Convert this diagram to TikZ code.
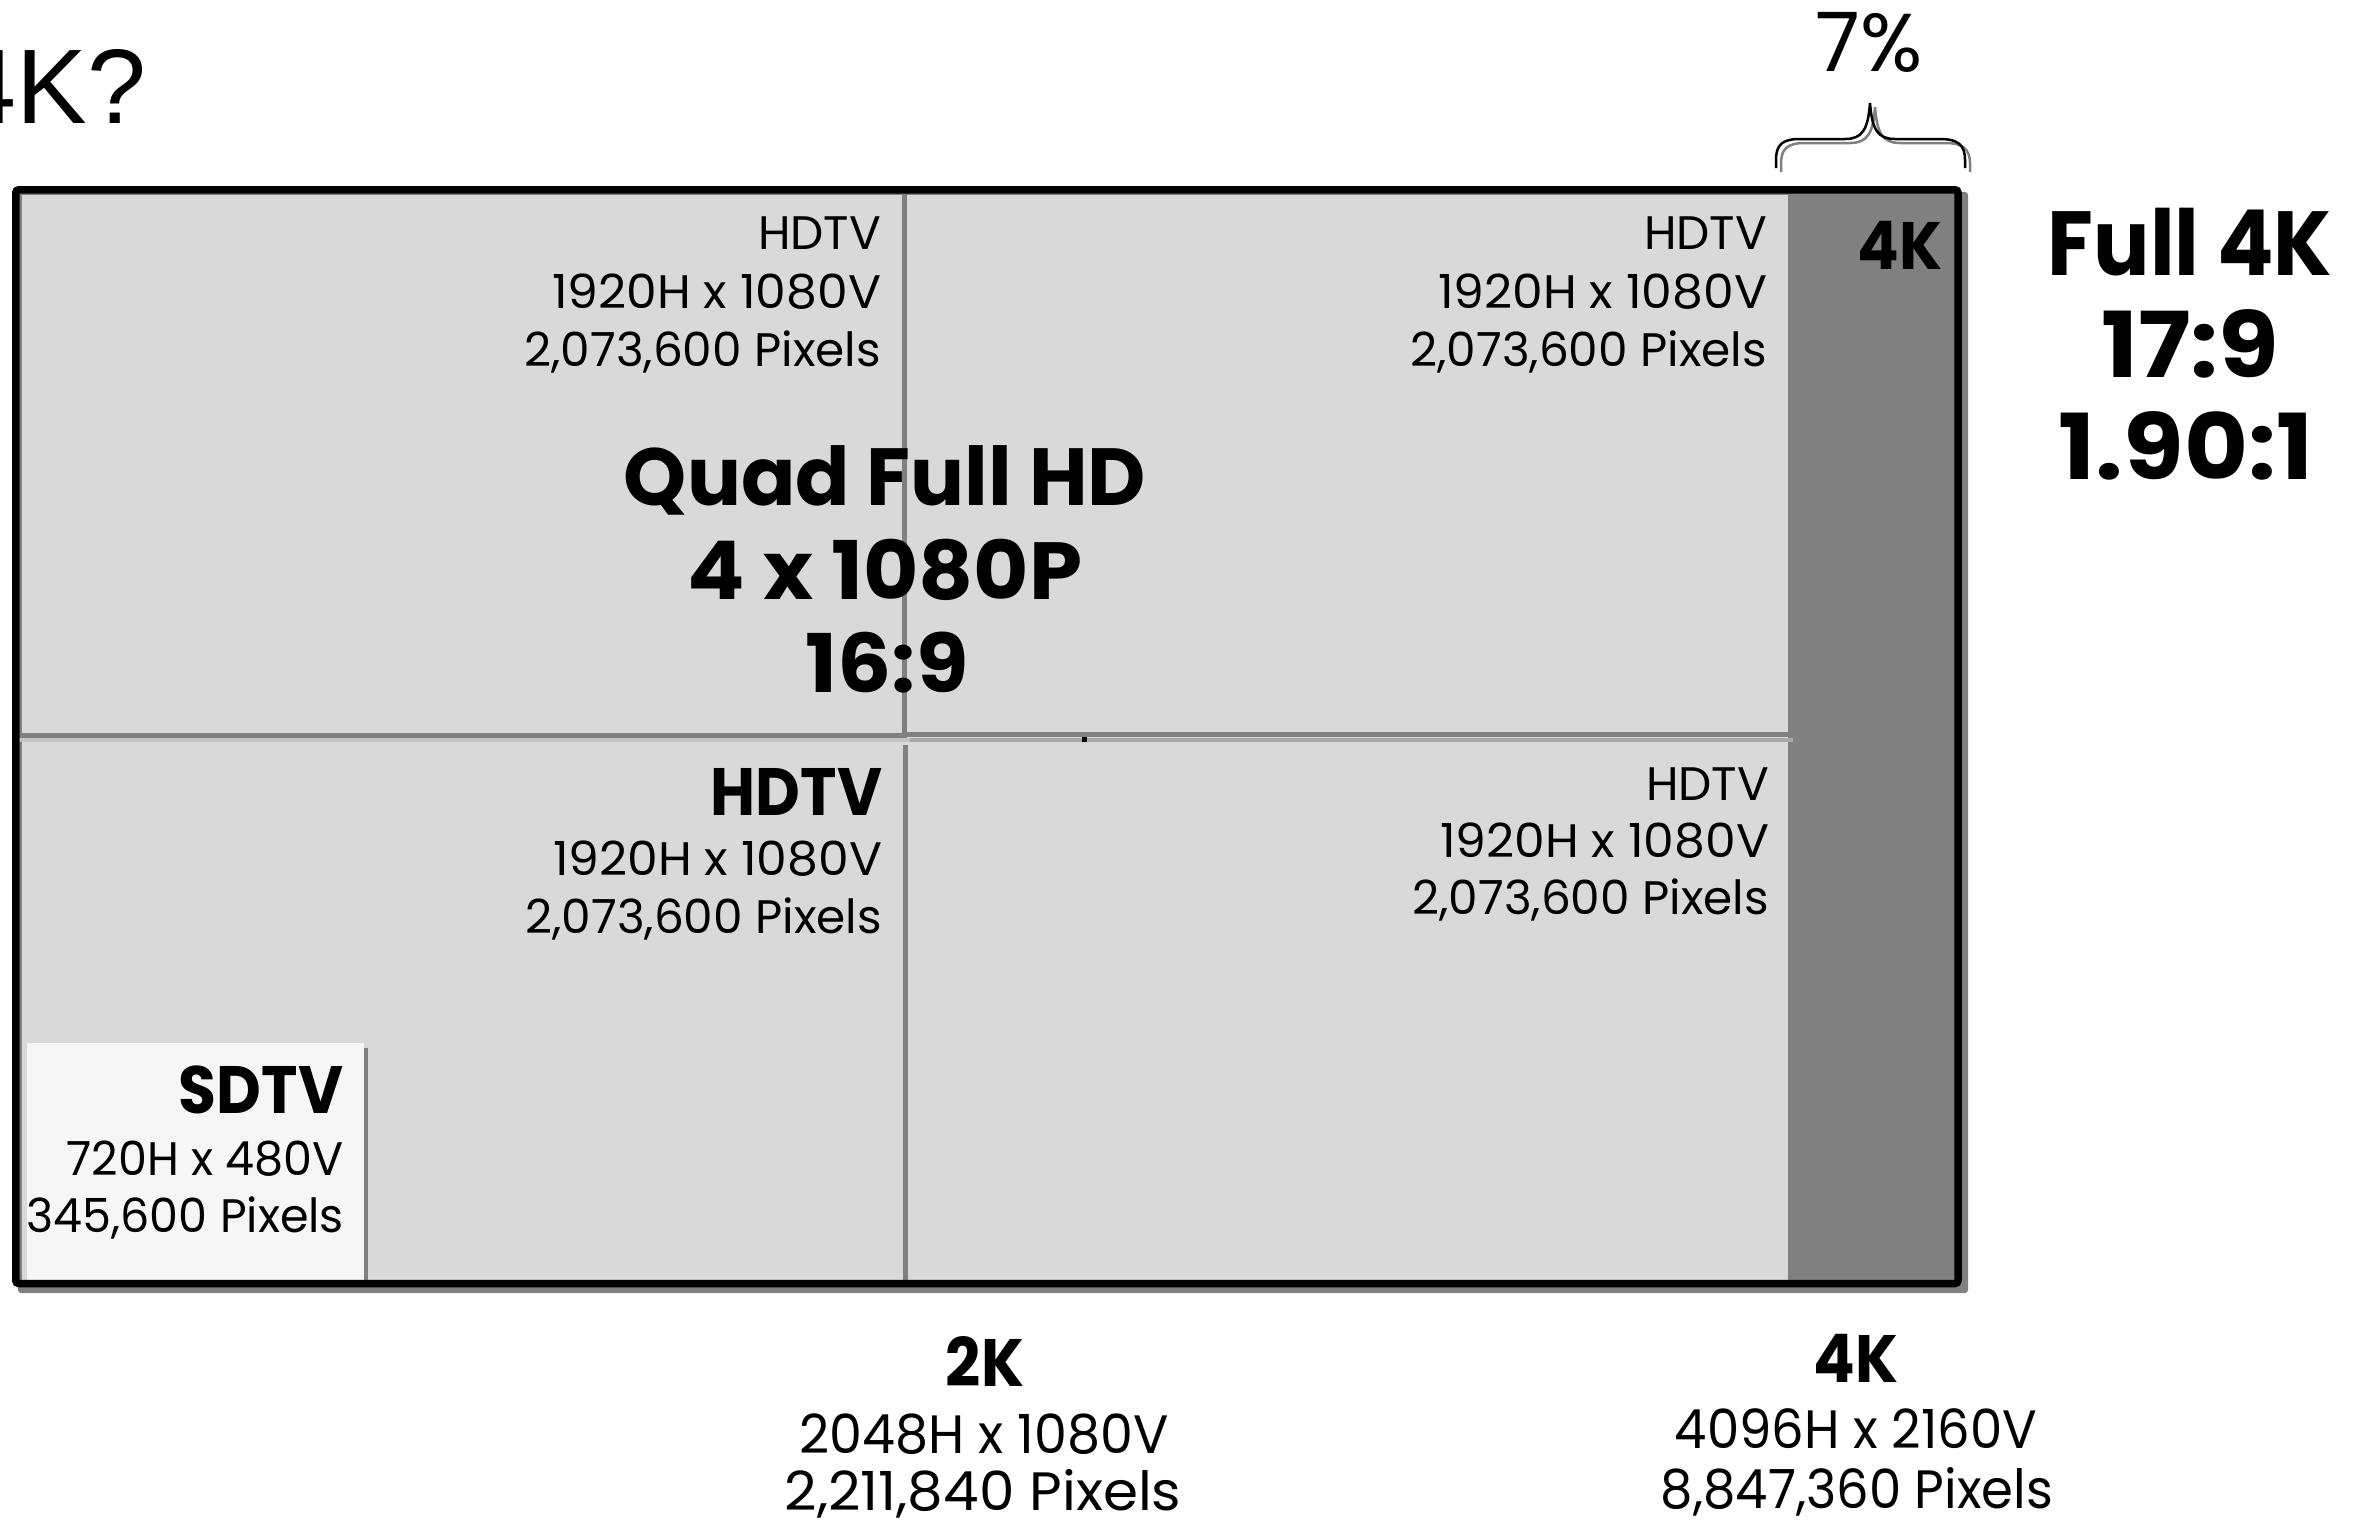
\documentclass[tikz,border=0pt]{standalone}
\usepackage{graphicx}
\usepackage{fontspec}
\newfontfamily\rfam[FakeStretch=1.0]{Poppins}
\newfontfamily\rbfam[FakeStretch=0.95]{Poppins}
\newfontfamily\bfam[FakeStretch=0.92]{Poppins}
\newfontfamily\bqfam[FakeStretch=0.99]{Poppins}
\newfontfamily\bqdfam[FakeStretch=1.05]{Poppins}
\newfontfamily\bdfam[FakeStretch=1.08]{Poppins}
\newfontfamily\hfam{Liberation Sans}
\definecolor{qfill}{HTML}{D9D9D9}
\definecolor{qline}{HTML}{808080}
\definecolor{sdfill}{HTML}{F6F6F6}
\definecolor{bandL}{HTML}{C4C4C4}
\definecolor{bandR}{HTML}{A8A8A8}
\tikzset{
  lab/.style={inner sep=0pt, outer sep=0pt},
  reg/.style={lab, font=\rfam\fontsize{47}{56}\selectfont},
  regbig/.style={lab, font=\rbfam\fontsize{54}{64}\selectfont},
  bsm/.style={lab, font=\bfam\bfseries\fontsize{67}{78}\selectfont},
  bquad/.style={lab, font=\bqfam\bfseries\fontsize{81}{94}\selectfont},
  bquadd/.style={lab, font=\bqdfam\bfseries\fontsize{81}{94}\selectfont},
  bfull/.style={lab, font=\bfam\bfseries\fontsize{91}{102}\selectfont},
  bfulld/.style={lab, font=\bdfam\bfseries\fontsize{91}{102}\selectfont},
  divider/.style={draw=qline, line width=5pt},
  bracestyle/.style={line width=2.5pt},
}
\newcommand\bracepathK{(1776,168) -- (1776,160) .. controls (1776,145) and (1782,139) .. (1800,139) -- (1845,139) .. controls (1862,139) and (1868,130) .. (1870,103) .. controls (1872,130) and (1878,139) .. (1895,139) -- (1940,139) .. controls (1958,139) and (1965,145) .. (1965,160) -- (1965,168)}
\newcommand\resline{\scalebox{1.038}[1]{1920H x 1080V}}
\begin{document}
\begin{tikzpicture}[x=1pt,y=-1pt]
\useasboundingbox (0,0) rectangle (2366,1524);
% frame shadow
\fill[qline, rounded corners=3pt] (18,192) rectangle (1968,1293);
% screen area
\fill[qfill] (19,193) rectangle (1790,1280);
% 4K strip
\fill[qline] (1788,193) rectangle (1955,1280);
% inner edges
\draw[qline, line width=2.5pt] (20.25,193) -- (20.25,1280);
\draw[qline, line width=2pt] (19,194) -- (1790,194);
% dividers
\draw[divider] (904,193) -- (904,738);
\draw[divider] (905.5,745) -- (905.5,1280);
\draw[divider] (19,735.5) -- (907,735.5);
\draw[divider] (907,734.5) -- (1790,734.5);
\draw[bandL, line width=4.5pt] (19,740) -- (910,740);
\draw[bandR, line width=4.5pt] (910,740) -- (1793,740);
\fill (1082,737) rectangle (1087,742);
% SDTV box
\fill[qline] (31,1048) rectangle (368,1280);
\fill[sdfill] (27,1043) rectangle (364,1280);
% outer frame
\draw[line width=7.5pt, rounded corners=3pt] (15.75,189.75) rectangle (1958,1283.5);
% brace
\draw[bracestyle, qline, shift={(5,4)}] \bracepathK;
\draw[bracestyle] \bracepathK;
% texts
\node[lab, font=\hfam\fontsize{106}{120}\selectfont, anchor=base east] (q4k) at (146,123) {4K?};
\node[lab, font=\rfam\fontsize{82}{94}\selectfont, anchor=base] (pct) at (1869,71) {7\%};

\node[reg, anchor=base east] (tla) at (881,249) {HDTV};
\node[reg, anchor=base east] (tlb) at (881,308) {\resline};
\node[reg, anchor=base east] (tlc) at (881,366) {2,073,600 Pixels};

\node[reg, anchor=base east] (tra) at (1767,249) {HDTV};
\node[reg, anchor=base east] (trb) at (1767,308) {\resline};
\node[reg, anchor=base east] (trc) at (1767,366) {2,073,600 Pixels};

\node[reg, anchor=base east] (bra) at (1769,800) {HDTV};
\node[reg, anchor=base east] (brb) at (1769,857) {\resline};
\node[reg, anchor=base east] (brc) at (1769,914) {2,073,600 Pixels};

\node[bsm, anchor=base east] (bla) at (882,815) {HDTV};
\node[reg, anchor=base east] (blb) at (882,875) {\resline};
\node[reg, anchor=base east] (blc) at (882,933) {2,073,600 Pixels};

\node[bsm, anchor=base east] (sda) at (343,1113) {SDTV};
\node[reg, anchor=base east] (sdb) at (344,1175) {\scalebox{0.98}[1]{720H x 480V}};
\node[reg, anchor=base east] (sdc) at (344,1232) {\scalebox{0.98}[1]{345,600 Pixels}};

\node[bsm, anchor=base east] (strip) at (1942,269) {4K};

\node[bquad, anchor=base] (qa) at (885,505) {Quad Full HD};
\node[bquadd, anchor=base] (qb) at (885,599) {4 x 1080P};
\node[bquadd, anchor=base] (qc) at (887,692) {16:9};

\node[bfull, anchor=base] (fa) at (2190,275) {Full 4K};
\node[bfulld, anchor=base] (fb) at (2190,377) {17:9};
\node[bfulld, anchor=base] (fc) at (2186,479) {1.90:1};

\node[bsm, anchor=base] (ka) at (985,1386) {2K};
\node[regbig, anchor=base] (kb) at (984,1453) {\scalebox{1.02}[1]{2048H x 1080V}};
\node[regbig, anchor=base] (kc) at (983,1510) {\scalebox{1.1}[1]{2,211,840 Pixels}};

\node[bsm, anchor=base] (ma) at (1856,1382) {4K};
\node[regbig, anchor=base] (mb) at (1856,1448) {4096H x 2160V};
\node[regbig, anchor=base] (mc) at (1857,1508) {8,847,360 Pixels};
\end{tikzpicture}
\end{document}
